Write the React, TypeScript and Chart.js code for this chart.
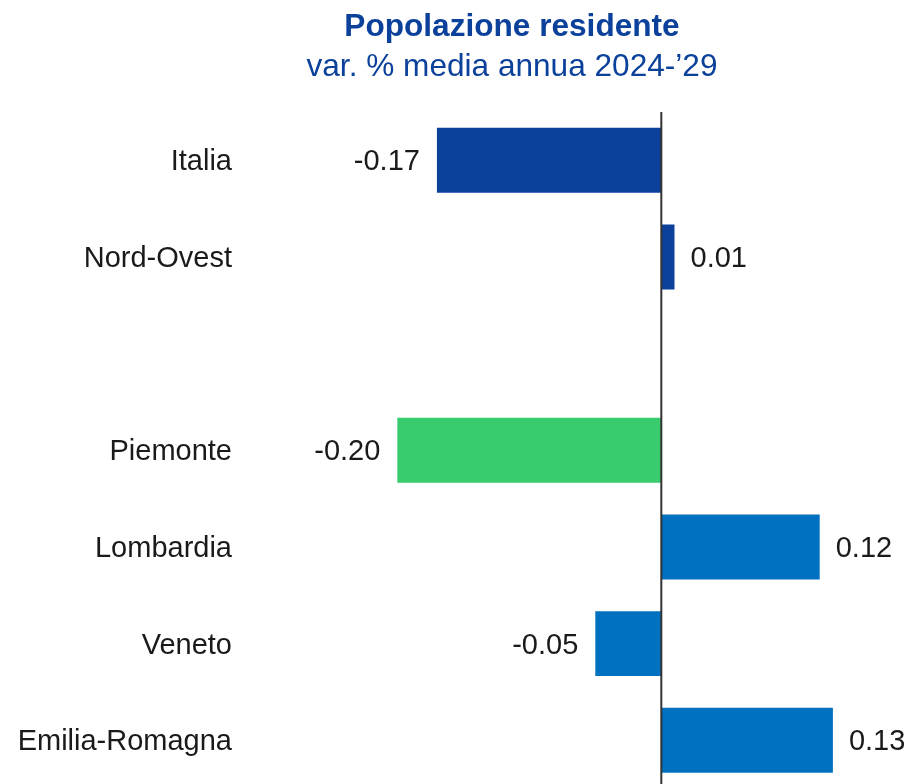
import React, { useEffect, useRef } from "react";
import { Chart, registerables } from "chart.js";

Chart.register(...registerables);

const categories = ["Italia", "Nord-Ovest", "", "Piemonte", "Lombardia", "Veneto", "Emilia-Romagna"];
const values: (number | null)[] = [-0.17, 0.01, null, -0.2, 0.12, -0.05, 0.13];
const barColors = ["#0b419b", "#0b419b", "#0b419b", "#38cc6e", "#0070c0", "#0070c0", "#0070c0"];
const titleText = "Popolazione residente";
const subtitleText = "var. % media annua 2024-\u201929";
const xMin = -0.3192;
const xMax = 0.1869;

const FONT = "'Liberation Sans', Arial, sans-serif";
const TEXT_COLOR = "#1a1a1a";
const TITLE_COLOR = "#0b419b";

const valueLabels = {
  id: "valueLabels",
  afterDatasetsDraw(chart: any) {
    const { ctx, chartArea } = chart;
    const meta = chart.getDatasetMeta(0);
    const xs = chart.scales.x;
    ctx.save();
    ctx.font = `29px ${FONT}`;
    ctx.fillStyle = TEXT_COLOR;
    ctx.textBaseline = "middle";
    meta.data.forEach((el: any, i: number) => {
      const v = values[i];
      if (v == null) return;
      const { x, y } = el.getProps(["x", "y"], true);
      if (v < 0) {
        ctx.textAlign = "right";
        ctx.fillText(v.toFixed(2), x - 17, y + 2);
      } else {
        ctx.textAlign = "left";
        ctx.fillText(v.toFixed(2), x + 16, y + 2);
      }
    });
    const x0 = xs.getPixelForValue(0);
    ctx.strokeStyle = "#333333";
    ctx.lineWidth = 2;
    ctx.beginPath();
    ctx.moveTo(x0, chartArea.top);
    ctx.lineTo(x0, chartArea.bottom);
    ctx.stroke();
    ctx.restore();
  },
};

export default function App() {
  const ref = useRef<HTMLCanvasElement | null>(null);

  useEffect(() => {
    if (!ref.current) return;
    const chart = new Chart(ref.current, {
      type: "bar",
      data: {
        labels: categories,
        datasets: [
          {
            data: values,
            backgroundColor: barColors,
            borderWidth: 0,
            categoryPercentage: 1,
            barPercentage: 0.672,
          },
        ],
      },
      options: {
        indexAxis: "y",
        responsive: false,
        animation: false,
        layout: { padding: { left: 0, right: -116, top: 0, bottom: 0 } },
        plugins: {
          legend: { display: false },
          tooltip: { enabled: false },
          title: {
            display: true,
            text: titleText,
            color: TITLE_COLOR,
            font: { family: FONT, size: 31.6, weight: "bold", lineHeight: 1.2 },
            padding: { top: 8, bottom: 0 },
          },
          subtitle: {
            display: true,
            text: subtitleText,
            color: TITLE_COLOR,
            font: { family: FONT, size: 31.6, weight: "normal", lineHeight: 1.2 },
            padding: { top: 2.1, bottom: 26.06 },
          },
        },
        scales: {
          x: {
            display: false,
            min: xMin,
            max: xMax,
          },
          y: {
            grid: { display: false, drawTicks: false },
            border: { display: false },
            ticks: {
              color: TEXT_COLOR,
              font: { family: FONT, size: 29 },
              padding: 8,
              labelOffset: 2,
            },
            afterFit(scale: any) {
              scale.width = 240;
            },
          },
        },
      },
      plugins: [valueLabels],
    });
    return () => chart.destroy();
  }, []);

  return (
    <div
      style={{
        position: "fixed",
        left: 0,
        top: 0,
        width: 908,
        height: 784,
        overflow: "hidden",
        background: "#ffffff",
      }}
    >
      <canvas ref={ref} width={908} height={814} style={{ display: "block" }} />
    </div>
  );
}
